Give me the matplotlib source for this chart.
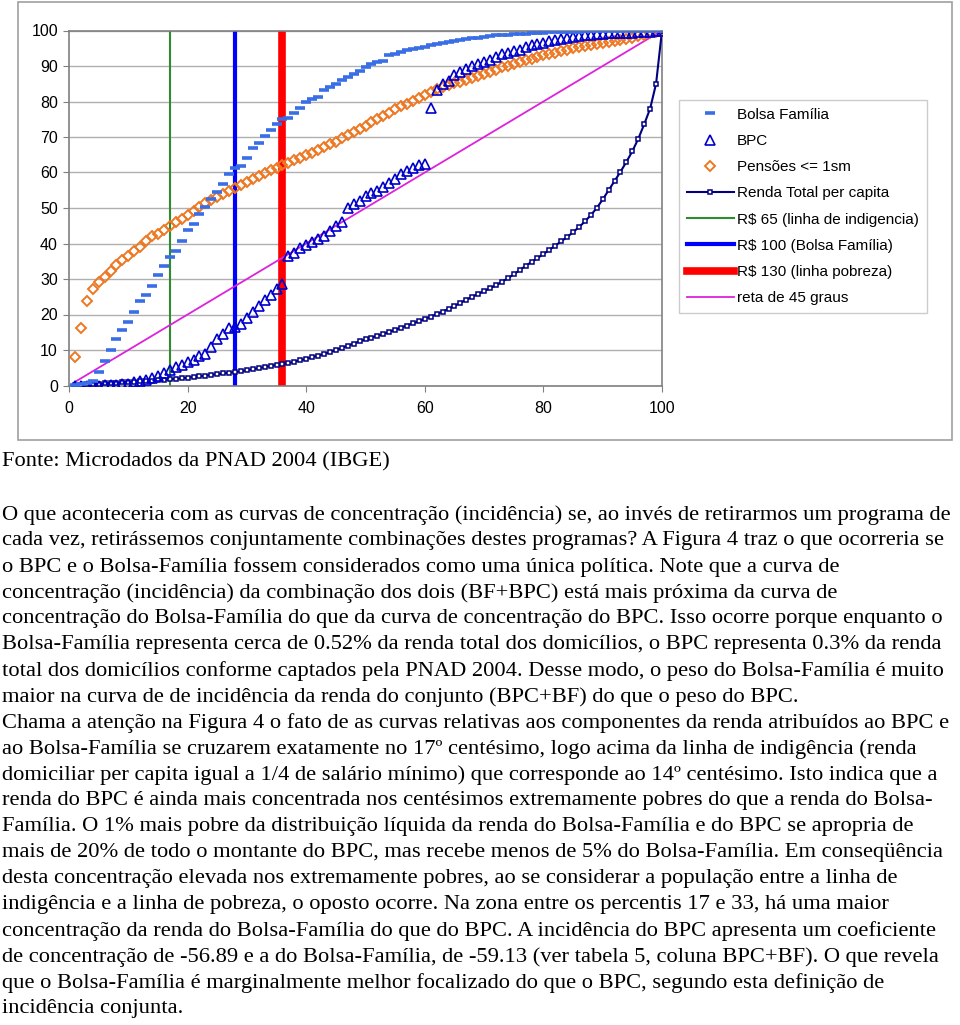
"""Curvas de concentração: Bolsa Família, BPC, Pensões e renda total."""

import matplotlib
matplotlib.use('Agg')
import matplotlib.pyplot as plt
from matplotlib.lines import Line2D
from matplotlib.patches import Rectangle

# centésimos da distribuição
centis = list(range(1, 101))

bolsa_familia = [
    0.1, 0.3, 0.6, 1.4, 3.9, 7.0, 9.9, 13.2, 15.5, 17.8,
    20.7, 23.9, 25.4, 27.9, 31.0, 33.8, 36.3, 37.8, 40.6, 43.9,
    45.4, 48.2, 50.4, 52.5, 54.5, 56.8, 59.6, 61.2, 61.8, 64.0,
    66.8, 68.3, 70.4, 72.0, 73.7, 75.1, 75.4, 76.8, 78.2, 79.8,
    80.6, 81.4, 83.3, 84.2, 85.0, 86.1, 87.0, 87.8, 88.7, 89.6,
    90.6, 91.0, 91.5, 93.0, 93.4, 93.9, 94.4, 94.8, 95.1, 95.3,
    95.8, 96.1, 96.4, 96.7, 97.0, 97.3, 97.6, 97.8, 98.0, 98.2,
    98.4, 98.6, 98.7, 98.8, 98.9, 99.0, 99.1, 99.2, 99.3, 99.4,
    99.5, 99.5, 99.6, 99.6, 99.7, 99.7, 99.8, 99.8, 99.8, 99.9,
    99.9, 99.9, 99.9, 100, 100, 100, 100, 100, 100, 100,
]

bpc = [
    0.0, 0.0, 0.0, 0.0, 0.0, 0.1, 0.1, 0.2, 0.3, 0.5,
    0.9, 1.2, 1.5, 2.2, 2.8, 3.4, 4.5, 5.3, 5.8, 6.6,
    7.3, 8.2, 9.0, 10.8, 13.0, 14.6, 16.2, 16.6, 17.2, 18.9,
    20.7, 22.5, 24.1, 25.4, 27.2, 28.6, 36.6, 37.3, 38.6, 39.5,
    40.4, 41.2, 42.2, 43.6, 45.0, 46.0, 50.0, 51.0, 52.0, 53.3,
    54.3, 54.9, 56.0, 57.0, 58.3, 59.5, 60.4, 61.3, 62.0, 62.3,
    78.3, 83.1, 85.0, 85.9, 87.6, 88.3, 89.1, 90.0, 90.6, 91.2,
    91.8, 92.6, 93.3, 93.8, 94.1, 94.6, 95.3, 95.8, 96.2, 96.6,
    97.0, 97.4, 97.7, 98.0, 98.2, 98.4, 98.6, 98.8, 99.0, 99.1,
    99.2, 99.3, 99.3, 99.4, 99.4, 99.5, 99.6, 99.7, 99.8, 100,
]

pensoes = [
    7.9, 16.1, 23.8, 27.2, 29.1, 30.7, 32.2, 34.0, 35.4, 36.5,
    38.0, 39.0, 40.8, 42.0, 42.8, 43.7, 44.8, 46.0, 46.9, 47.9,
    49.2, 50.2, 51.3, 52.2, 53.2, 54.0, 54.8, 55.6, 56.5, 57.4,
    58.2, 59.0, 59.8, 60.6, 61.4, 62.1, 62.8, 63.5, 64.2, 64.9,
    65.6, 66.4, 67.1, 67.9, 68.7, 69.6, 70.5, 71.4, 72.3, 73.2,
    74.1, 75.0, 75.9, 76.9, 77.8, 78.6, 79.4, 80.2, 81.0, 81.8,
    82.6, 83.4, 84.0, 84.6, 85.1, 85.6, 86.1, 86.6, 87.2, 87.8,
    88.4, 89.0, 89.6, 90.1, 90.6, 91.1, 91.6, 92.1, 92.6, 93.0,
    93.4, 93.8, 94.2, 94.6, 95.0, 95.3, 95.6, 95.9, 96.2, 96.5,
    96.8, 97.1, 97.4, 97.7, 98.0, 98.4, 98.8, 99.2, 99.6, 100,
]

renda_total = [
    0.1, 0.2, 0.3, 0.4, 0.5, 0.6, 0.7, 0.8, 0.9, 1.0,
    1.1, 1.2, 1.3, 1.4, 1.5, 1.6, 1.7, 1.9, 2.0, 2.2,
    2.4, 2.6, 2.8, 3.0, 3.2, 3.4, 3.6, 3.8, 4.0, 4.3,
    4.6, 4.9, 5.2, 5.5, 5.8, 6.0, 6.3, 6.7, 7.1, 7.5,
    8.0, 8.4, 8.9, 9.4, 10.0, 10.6, 11.2, 11.8, 12.4, 13.0,
    13.5, 14.0, 14.5, 15.1, 15.7, 16.3, 16.9, 17.5, 18.1, 18.8,
    19.4, 20.1, 20.8, 21.6, 22.4, 23.3, 24.2, 25.0, 25.8, 26.6,
    27.4, 28.2, 29.2, 30.2, 31.3, 32.5, 33.7, 34.8, 35.9, 37.0,
    38.2, 39.4, 40.6, 41.8, 43.2, 44.6, 46.2, 48.0, 50.0, 52.4,
    55.0, 57.6, 60.2, 63.0, 66.0, 69.5, 73.6, 78.0, 85.0, 100,
]

# reta de 45 graus: cada centésimo com a mesma participação
reta_45 = centis

# linhas verticais (centésimo correspondente a cada valor de renda)
linhas_pos = [17, 28, 36]
linhas_labels = ['R$ 65 (linha de indigencia)', 'R$ 100 (Bolsa Família)',
                 'R$ 130 (linha pobreza)']

texto_fonte = 'Fonte: Microdados da PNAD 2004 (IBGE)'
texto_linhas = [
    'O que aconteceria com as curvas de concentração (incidência) se, ao invés de retirarmos um programa de',
    'cada vez, retirássemos conjuntamente combinações destes programas? A Figura 4 traz o que ocorreria se',
    'o BPC e o Bolsa-Família fossem considerados como uma única política. Note que a curva de',
    'concentração (incidência) da combinação dos dois (BF+BPC) está mais próxima da curva de',
    'concentração do Bolsa-Família do que da curva de concentração do BPC. Isso ocorre porque enquanto o',
    'Bolsa-Família representa cerca de 0.52% da renda total dos domicílios, o BPC representa 0.3% da renda',
    'total dos domicílios conforme captados pela PNAD 2004. Desse modo, o peso do Bolsa-Família é muito',
    'maior na curva de de incidência da renda do conjunto (BPC+BF) do que o peso do BPC.',
    'Chama a atenção na Figura 4 o fato de as curvas relativas aos componentes da renda atribuídos ao BPC e',
    'ao Bolsa-Família se cruzarem exatamente no 17º centésimo, logo acima da linha de indigência (renda',
    'domiciliar per capita igual a 1/4 de salário mínimo) que corresponde ao 14º centésimo. Isto indica que a',
    'renda do BPC é ainda mais concentrada nos centésimos extremamente pobres do que a renda do Bolsa-',
    'Família. O 1% mais pobre da distribuição líquida da renda do Bolsa-Família e do BPC se apropria de',
    'mais de 20% de todo o montante do BPC, mas recebe menos de 5% do Bolsa-Família. Em conseqüência',
    'desta concentração elevada nos extremamente pobres, ao se considerar a população entre a linha de',
    'indigência e a linha de pobreza, o oposto ocorre. Na zona entre os percentis 17 e 33, há uma maior',
    'concentração da renda do Bolsa-Família do que do BPC. A incidência do BPC apresenta um coeficiente',
    'de concentração de -56.89 e a do Bolsa-Família, de -59.13 (ver tabela 5, coluna BPC+BF). O que revela',
    'que o Bolsa-Família é marginalmente melhor focalizado do que o BPC, segundo esta definição de',
    'incidência conjunta.',
]


def main():
    W, H = 960, 1025
    fig = plt.figure(figsize=(W / 100, H / 100), dpi=100)
    plt.rcParams['font.family'] = ['Liberation Sans', 'DejaVu Sans']

    # moldura do gráfico
    fig.patches.append(Rectangle((18 / W, 1 - 440 / H), 934 / W, 438 / H,
                                 transform=fig.transFigure, fill=False,
                                 edgecolor='#A0A0A0', linewidth=1.2))

    ax = fig.add_axes([69 / W, 1 - 385.5 / H, 593 / W, 355 / H])

    colors_lin = ['#2E8B2E', '#0000FF', '#FF0000']
    widths_lin = [1.5, 3.0, 5.5]
    for x, c, lw in zip(linhas_pos, colors_lin, widths_lin):
        ax.vlines(x, 0, 100, colors=c, linewidth=lw, zorder=2)

    ax.plot(centis, reta_45, color='#DD22DD', linewidth=1.3, zorder=3)
    ax.plot(centis, renda_total, color='#000080', linewidth=1.5, marker='s',
            markersize=3.4, markerfacecolor='white', markeredgewidth=1.1,
            markeredgecolor='#000080', zorder=4)
    ax.plot(centis, pensoes, linestyle='none', marker='D', markersize=5.5,
            markerfacecolor='none', markeredgecolor='#EE7722',
            markeredgewidth=1.4, zorder=5)
    ax.plot(centis, bpc, linestyle='none', marker='^', markersize=7.5,
            markerfacecolor='none', markeredgecolor='#0000CC',
            markeredgewidth=1.2, zorder=6)
    ax.plot(centis, bolsa_familia, linestyle='none', marker='_',
            markersize=6.5, markeredgecolor='#3A6EE6', markeredgewidth=2.6,
            zorder=7)

    ax.set_xlim(0, 100)
    ax.set_ylim(0, 100)
    ax.set_xticks(range(0, 101, 20))
    ax.set_yticks(range(0, 101, 10))
    ax.tick_params(labelsize=11.5, length=4, color='#808080', pad=4)
    ax.tick_params(axis='x', pad=7)
    ax.grid(axis='y', color='#B0B0B0', linewidth=1)
    ax.set_axisbelow(True)
    for sp in ax.spines.values():
        sp.set_color('#808080')
        sp.set_linewidth(1.2)

    handles = [
        Line2D([], [], linestyle='none', marker='_', markersize=6.5,
               markeredgecolor='#3A6EE6', markeredgewidth=2.6),
        Line2D([], [], linestyle='none', marker='^', markersize=7.5,
               markerfacecolor='none', markeredgecolor='#0000CC',
               markeredgewidth=1.2),
        Line2D([], [], linestyle='none', marker='D', markersize=5.5,
               markerfacecolor='none', markeredgecolor='#EE7722',
               markeredgewidth=1.4),
        Line2D([], [], color='#000080', linewidth=1.5, marker='s',
               markersize=3.4, markerfacecolor='white',
               markeredgecolor='#000080', markeredgewidth=1.1),
    ]
    for c, lw in zip(colors_lin, widths_lin):
        handles.append(Line2D([], [], color=c, linewidth=lw))
    handles.append(Line2D([], [], color='#DD22DD', linewidth=1.3))
    labels = ['Bolsa Família', 'BPC', 'Pensões <= 1sm',
              'Renda Total per capita'] + linhas_labels + ['reta de 45 graus']

    leg = fig.legend(handles, labels, loc='upper left',
                     bbox_to_anchor=(679 / W, 1 - 100 / H), fontsize=11,
                     frameon=True, fancybox=False, edgecolor='#C0C0C0',
                     handlelength=3.1, handletextpad=0.2, labelspacing=0.8,
                     borderpad=0.5, borderaxespad=0)
    leg.get_frame().set_linewidth(1.0)

    serif = ['Liberation Serif', 'DejaVu Serif']
    fs = 16.2
    fig.text(2 / W, 1 - 462 / H, texto_fonte, fontsize=fs, family=serif,
             va='center', ha='left')
    for i, linha in enumerate(texto_linhas):
        y = 515 + 26 * i
        fig.text(2 / W, 1 - y / H, linha, fontsize=fs, family=serif,
                 va='center', ha='left')

    fig.savefig('out.png', dpi=100)


if __name__ == '__main__':
    main()
